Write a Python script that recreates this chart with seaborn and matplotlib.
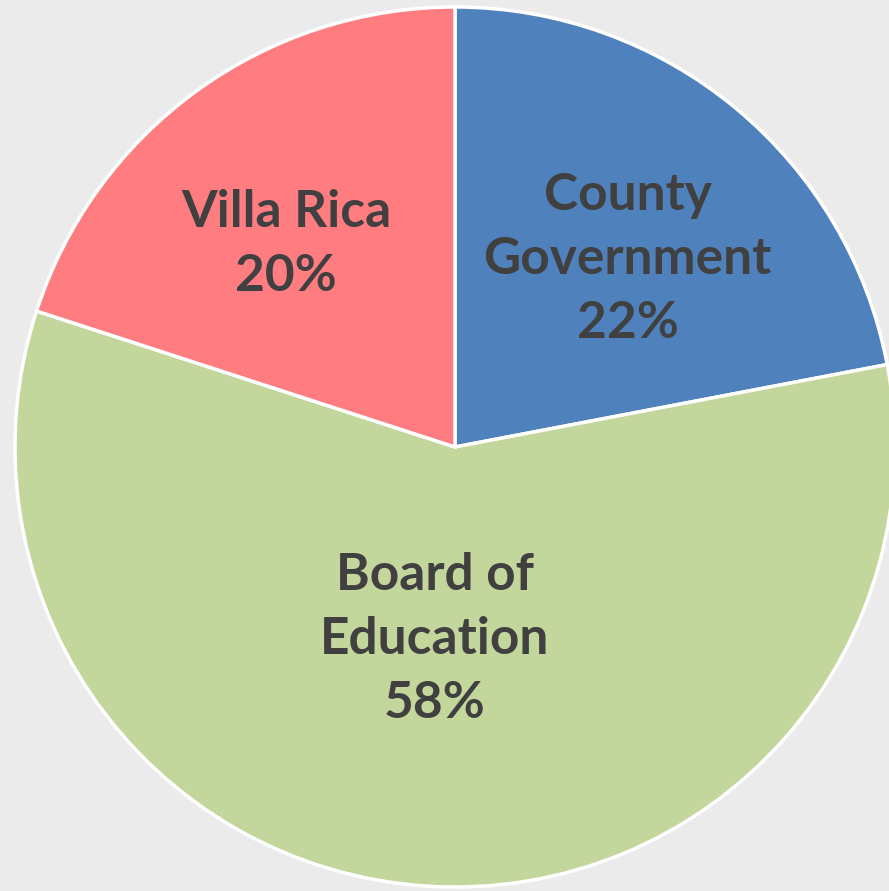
import numpy as np
import seaborn as sns
import matplotlib.pyplot as plt

# Dados do gráfico
categorias = ['County\nGovernment', 'Board of\nEducation', 'Villa Rica']
percentuais = [22, 58, 20]
cores = ['#4F81BD', '#C3D69B', '#FF7C80']
# posição de cada rótulo: fração do raio e ajuste do ângulo (graus)
dist_rotulos = [0.58, 0.44, 0.60]
ajuste_ang = [-3.0, -2.4, 3.8]

sns.set_style('white')
plt.rcParams['font.family'] = ['Lato', 'DejaVu Sans']

fig = plt.figure(figsize=(8.89, 8.91), dpi=100)
fig.patch.set_facecolor('#ebebeb')
ax = fig.add_axes([0, 0, 1, 1])
ax.set_facecolor('#ebebeb')

wedges, _ = ax.pie(percentuais, colors=cores, startangle=90, counterclock=False,
                   wedgeprops=dict(edgecolor='white', linewidth=2.5))

# Rótulos no meio de cada fatia
for w, cat, pct, d, da in zip(wedges, categorias, percentuais, dist_rotulos, ajuste_ang):
    ang = np.deg2rad((w.theta1 + w.theta2) / 2 + da)
    ax.text(d * np.cos(ang), d * np.sin(ang), f'{cat}\n{pct}%',
            ha='center', va='center', fontsize=37, fontweight='bold',
            color='#404040', linespacing=1.45)

ax.set_xlim(-455 / 440, (889 - 455) / 440)
ax.set_ylim(-(891 - 447) / 440, 447 / 440)
ax.set_aspect('auto')
ax.axis('off')

plt.savefig('out.png', dpi=100, facecolor=fig.get_facecolor())
